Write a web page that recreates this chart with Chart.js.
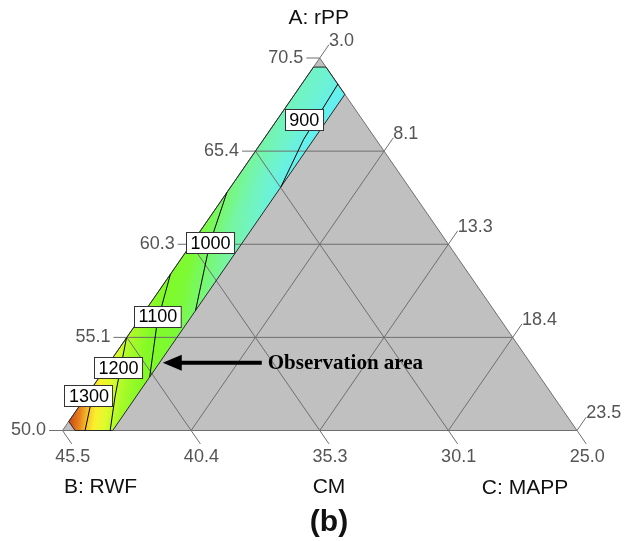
<!DOCTYPE html>
<html><head><meta charset="utf-8">
<script src="https://cdn.jsdelivr.net/npm/chart.js@4/dist/chart.umd.min.js"></script>
<style>html,body{margin:0;padding:0;background:#fff;}canvas{display:block}</style>
</head><body>
<canvas id="c" width="624" height="541"></canvas>
<script>
// ---- ternary frame (real component ranges) ----
const A_MIN = 50.0, B_MIN = 25.0, C_MIN = 3.0, SPAN = 20.5;
const TOTAL = A_MIN + B_MIN + C_MIN + SPAN; // 98.5

// tick labels (index k -> fraction k/4 of the component)
const aTickLabels = ['50.0', '55.1', '60.3', '65.4', '70.5'];
const bTickLabels = ['25.0', '30.1', '35.3', '40.4', '45.5'];
const cTickLabels = ['3.0', '8.1', '13.3', '18.4', '23.5'];
const axisTitleA = 'A: rPP';
const axisTitleB = 'B: RWF';
const axisTitleC = 'C: MAPP';
const midTitle = 'CM';
const panelLabel = '(b)';
const noteText = 'Observation area';

// observation (design) region, as A and C values
const regionA = [70, 70, 68.5, 50, 50, 50.5];
const regionC = [3, 3.5, 5, 5, 3.5, 3];

// response surface: rows = A, columns = C
const heatA = [50, 52, 54, 56, 58, 60, 62, 64, 66, 68, 70];
const heatC = [3, 4, 5];
const heatValues = [
  [1385, 1290, 1190],
  [1303, 1215, 1128],
  [1236, 1148, 1072],
  [1173, 1087, 1012],
  [1116, 1036, 978],
  [1068, 993, 948],
  [1024, 957, 920],
  [982, 932, 895],
  [958, 925, 888],
  [942, 918, 884],
  [932, 915, 880]
];

// contour lines (A, C points)
const contourLevels = [900, 1000, 1100, 1200, 1300];
const contour900A = [63.4, 66.0, 69.07];
const contour900C = [5.0, 4.6, 4.44];
const contour1000A = [56.6, 60.3, 63.1];
const contour1000C = [5.0, 3.72, 3.0];
const contour1100A = [52.95, 55.92, 58.6];
const contour1100C = [5.0, 3.81, 3.0];
const contour1200A = [50.0, 51.84, 55.1];
const contour1200C = [4.9, 4.17, 3.0];
const contour1300A = [50.0, 51.3, 52.1];
const contour1300C = [3.9, 3.45, 3.0];
// contour label anchors (A, C)
const labelA = [67.12, 60.35, 56.30, 53.44, 51.93];
const labelC = [4.05, 3.70, 3.63, 3.49, 3.07];
// arrow tip (A, C)
const arrowTipA = 53.73, arrowTipC = 5.13;

// ---- helpers ----
function tern(A, C) {
  const a = (A - A_MIN) / SPAN, c = (C - C_MIN) / SPAN;
  return { x: c + a / 2, y: a };
}
const GRID = '#6f6f6f';
const datasets = [];
function addLine(pts, color, width) {
  datasets.push({
    data: pts, showLine: true, borderColor: color, borderWidth: width,
    pointRadius: 0, pointHoverRadius: 0, fill: false, tension: 0, clip: false
  });
}
const contourSets = [
  [contour900A, contour900C], [contour1000A, contour1000C], [contour1100A, contour1100C],
  [contour1200A, contour1200C], [contour1300A, contour1300C]
];
contourSets.forEach(([as, cs]) => addLine(as.map((A, i) => tern(A, cs[i])), '#000', 1));
addLine(regionA.concat([regionA[0]]).map((A, i) => tern(A, regionC.concat([regionC[0]])[i])), '#2a2a2a', 1);
addLine([{x:0,y:0},{x:1,y:0},{x:0.5,y:1},{x:0,y:0}], GRID, 1);
const TA = 0.026, TS = 0.036;
const aTickEnds = [], bTickEnds = [], cTickEnds = [];
for (let k = 0; k <= 4; k++) {
  const f = k / 4;
  const aL = { x: f / 2, y: f }, aR = { x: 1 - f / 2, y: f };
  const aT = { x: f / 2 - TA, y: f };
  aTickEnds.push(aT);
  if (k > 0 && k < 4) addLine([aT, aL, aR], GRID, 1); else addLine([aT, aL], GRID, 1);
  const cB = { x: f, y: 0 }, cE = { x: f + (1 - f) / 2, y: 1 - f };
  const cT = { x: cE.x + TS * 0.5, y: cE.y + TS };
  cTickEnds.push(cT);
  if (k > 0 && k < 4) addLine([cB, cE, cT], GRID, 1); else addLine([cE, cT], GRID, 1);
  const bB = { x: 1 - f, y: 0 }, bE = { x: (1 - f) / 2, y: 1 - f };
  const bT = { x: bB.x + TS * 0.5, y: -TS };
  bTickEnds.push(bT);
  if (k > 0 && k < 4) addLine([bT, bB, bE], GRID, 1); else addLine([bT, bB], GRID, 1);
}

// colour map for the response
const cmapStops = [
  [860, [92, 236, 252]], [895, [100, 240, 238]], [930, [112, 243, 200]],
  [970, [118, 246, 155]], [1010, [120, 248, 100]], [1050, [124, 250, 52]],
  [1120, [130, 250, 38]], [1180, [168, 250, 40]], [1230, [226, 250, 45]],
  [1268, [250, 240, 45]], [1300, [246, 190, 40]], [1325, [232, 130, 30]],
  [1360, [205, 78, 22]], [1390, [188, 56, 18]]
];
function cmap(v) {
  if (v <= cmapStops[0][0]) return cmapStops[0][1];
  for (let i = 0; i < cmapStops.length - 1; i++) {
    const [v0, c0] = cmapStops[i], [v1, c1] = cmapStops[i + 1];
    if (v <= v1) { const t = (v - v0) / (v1 - v0); return c0.map((q, j) => q + (c1[j] - q) * t); }
  }
  return cmapStops[cmapStops.length - 1][1];
}
function field(A, C) {
  let i = 0; while (i < heatA.length - 2 && A > heatA[i + 1]) i++;
  let j = 0; while (j < heatC.length - 2 && C > heatC[j + 1]) j++;
  const ta = Math.min(1, Math.max(0, (A - heatA[i]) / (heatA[i + 1] - heatA[i])));
  const tc = Math.min(1, Math.max(0, (C - heatC[j]) / (heatC[j + 1] - heatC[j])));
  const v00 = heatValues[i][j], v01 = heatValues[i][j + 1], v10 = heatValues[i + 1][j], v11 = heatValues[i + 1][j + 1];
  return (v00 * (1 - tc) + v01 * tc) * (1 - ta) + (v10 * (1 - tc) + v11 * tc) * ta;
}

const heatPlugin = {
  id: 'heat',
  beforeDatasetsDraw(chart) {
    const { ctx } = chart, sx = chart.scales.x, sy = chart.scales.y;
    const px = p => [sx.getPixelForValue(p.x), sy.getPixelForValue(p.y)];
    ctx.save();
    ctx.fillStyle = '#c0c0c0';
    ctx.beginPath();
    [{x:0,y:0},{x:1,y:0},{x:0.5,y:1}].forEach((p, i) => { const q = px(p); i ? ctx.lineTo(q[0], q[1]) : ctx.moveTo(q[0], q[1]); });
    ctx.closePath(); ctx.fill();
    const pts = regionA.map((A, i) => px(tern(A, regionC[i])));
    const x0 = Math.floor(Math.min(...pts.map(p => p[0]))) - 1, x1 = Math.ceil(Math.max(...pts.map(p => p[0]))) + 1;
    const y0 = Math.floor(Math.min(...pts.map(p => p[1]))) - 1, y1 = Math.ceil(Math.max(...pts.map(p => p[1]))) + 1;
    const w = x1 - x0, h = y1 - y0;
    const off = document.createElement('canvas'); off.width = w; off.height = h;
    const octx = off.getContext('2d'); const img = octx.createImageData(w, h);
    for (let yy = 0; yy < h; yy++) {
      const Y = sy.getValueForPixel(y0 + yy + 0.5);
      const A = A_MIN + SPAN * Y;
      for (let xx = 0; xx < w; xx++) {
        const X = sx.getValueForPixel(x0 + xx + 0.5);
        const C = C_MIN + SPAN * (X - Y / 2);
        const B = TOTAL - A - C;
        if (C < 3 || C > 5 || A > 70 || A < 50 || B < 25 || B > 45) continue;
        const col = cmap(field(A, C));
        const o = (yy * w + xx) * 4;
        img.data[o] = col[0]; img.data[o + 1] = col[1]; img.data[o + 2] = col[2]; img.data[o + 3] = 255;
      }
    }
    octx.putImageData(img, 0, 0);
    ctx.drawImage(off, x0, y0);
    ctx.restore();
  }
};

const textPlugin = {
  id: 'texts',
  afterDraw(chart) {
    const { ctx } = chart, sx = chart.scales.x, sy = chart.scales.y;
    const px = p => [sx.getPixelForValue(p.x), sy.getPixelForValue(p.y)];
    ctx.save();
    ctx.font = '18px "Liberation Sans", Arial, sans-serif';
    ctx.fillStyle = '#555';
    ctx.textBaseline = 'middle';
    aTickEnds.forEach((p, k) => { const q = px(p); ctx.textAlign = 'right'; ctx.fillText(aTickLabels[k], q[0] - 3, q[1]); });
    cTickEnds.forEach((p, k) => { const q = px(p); ctx.textAlign = 'left'; ctx.fillText(cTickLabels[k], q[0] + 0, q[1] - 4); });
    bTickEnds.forEach((p, k) => { const q = px(p); ctx.textAlign = 'center'; ctx.fillText(bTickLabels[k], q[0] + 1, q[1] + 13); });
    ctx.fillStyle = '#111';
    ctx.font = '21px "Liberation Sans", Arial, sans-serif';
    ctx.textAlign = 'center';
    const apex = px({x:0.5,y:1}), vB = px({x:0,y:0}), vC = px({x:1,y:0});
    ctx.fillText(axisTitleA, apex[0] - 1, apex[1] - 40);
    ctx.fillText(axisTitleB, vB[0] + 38, vB[1] + 57);
    ctx.fillText(axisTitleC, vC[0] - 52, vC[1] + 58);
    const mid = px(bTickEnds[2]);
    ctx.fillText(midTitle, mid[0], vB[1] + 57);
    ctx.font = 'bold 30px "Liberation Sans", Arial, sans-serif';
    ctx.fillText(panelLabel, mid[0], vB[1] + 92);
    ctx.font = '18px "Liberation Sans", Arial, sans-serif';
    contourLevels.forEach((lv, i) => {
      const q = px(tern(labelA[i], labelC[i]));
      const t = String(lv), tw = ctx.measureText(t).width;
      const bw = tw + 8, bh = 21;
      const bx = Math.round(q[0] - bw / 2) + 0.5, by = Math.round(q[1] - bh / 2) + 0.5;
      ctx.fillStyle = '#fff';
      ctx.fillRect(bx, by, bw, bh);
      ctx.strokeStyle = '#333'; ctx.lineWidth = 1;
      ctx.strokeRect(bx, by, bw, bh);
      ctx.fillStyle = '#000'; ctx.textAlign = 'center';
      ctx.fillText(t, q[0] + 0.5, q[1] + 1.5);
    });
    const tip = px(tern(arrowTipA, arrowTipC));
    ctx.fillStyle = '#000'; ctx.strokeStyle = '#000';
    ctx.beginPath();
    ctx.moveTo(tip[0], tip[1]); ctx.lineTo(tip[0] + 19, tip[1] - 8); ctx.lineTo(tip[0] + 19, tip[1] + 8); ctx.closePath(); ctx.fill();
    ctx.lineWidth = 4;
    ctx.beginPath(); ctx.moveTo(tip[0] + 15, tip[1]); ctx.lineTo(tip[0] + 99, tip[1]); ctx.stroke();
    ctx.font = 'bold 21px "Liberation Serif", "Times New Roman", serif';
    ctx.textAlign = 'left';
    ctx.fillText(noteText, tip[0] + 105, tip[1] + 1);
    ctx.restore();
  }
};

new Chart(document.getElementById('c'), {
  type: 'scatter',
  data: { datasets },
  options: {
    responsive: false, animation: false, devicePixelRatio: 1,
    layout: { padding: { left: 62.5, right: 47, top: 58, bottom: 110.5 } },
    scales: {
      x: { type: 'linear', min: 0, max: 1, display: false },
      y: { type: 'linear', min: 0, max: 1, display: false }
    },
    plugins: { legend: { display: false }, tooltip: { enabled: false } },
    events: []
  },
  plugins: [heatPlugin, textPlugin]
});
</script>
</body></html>
